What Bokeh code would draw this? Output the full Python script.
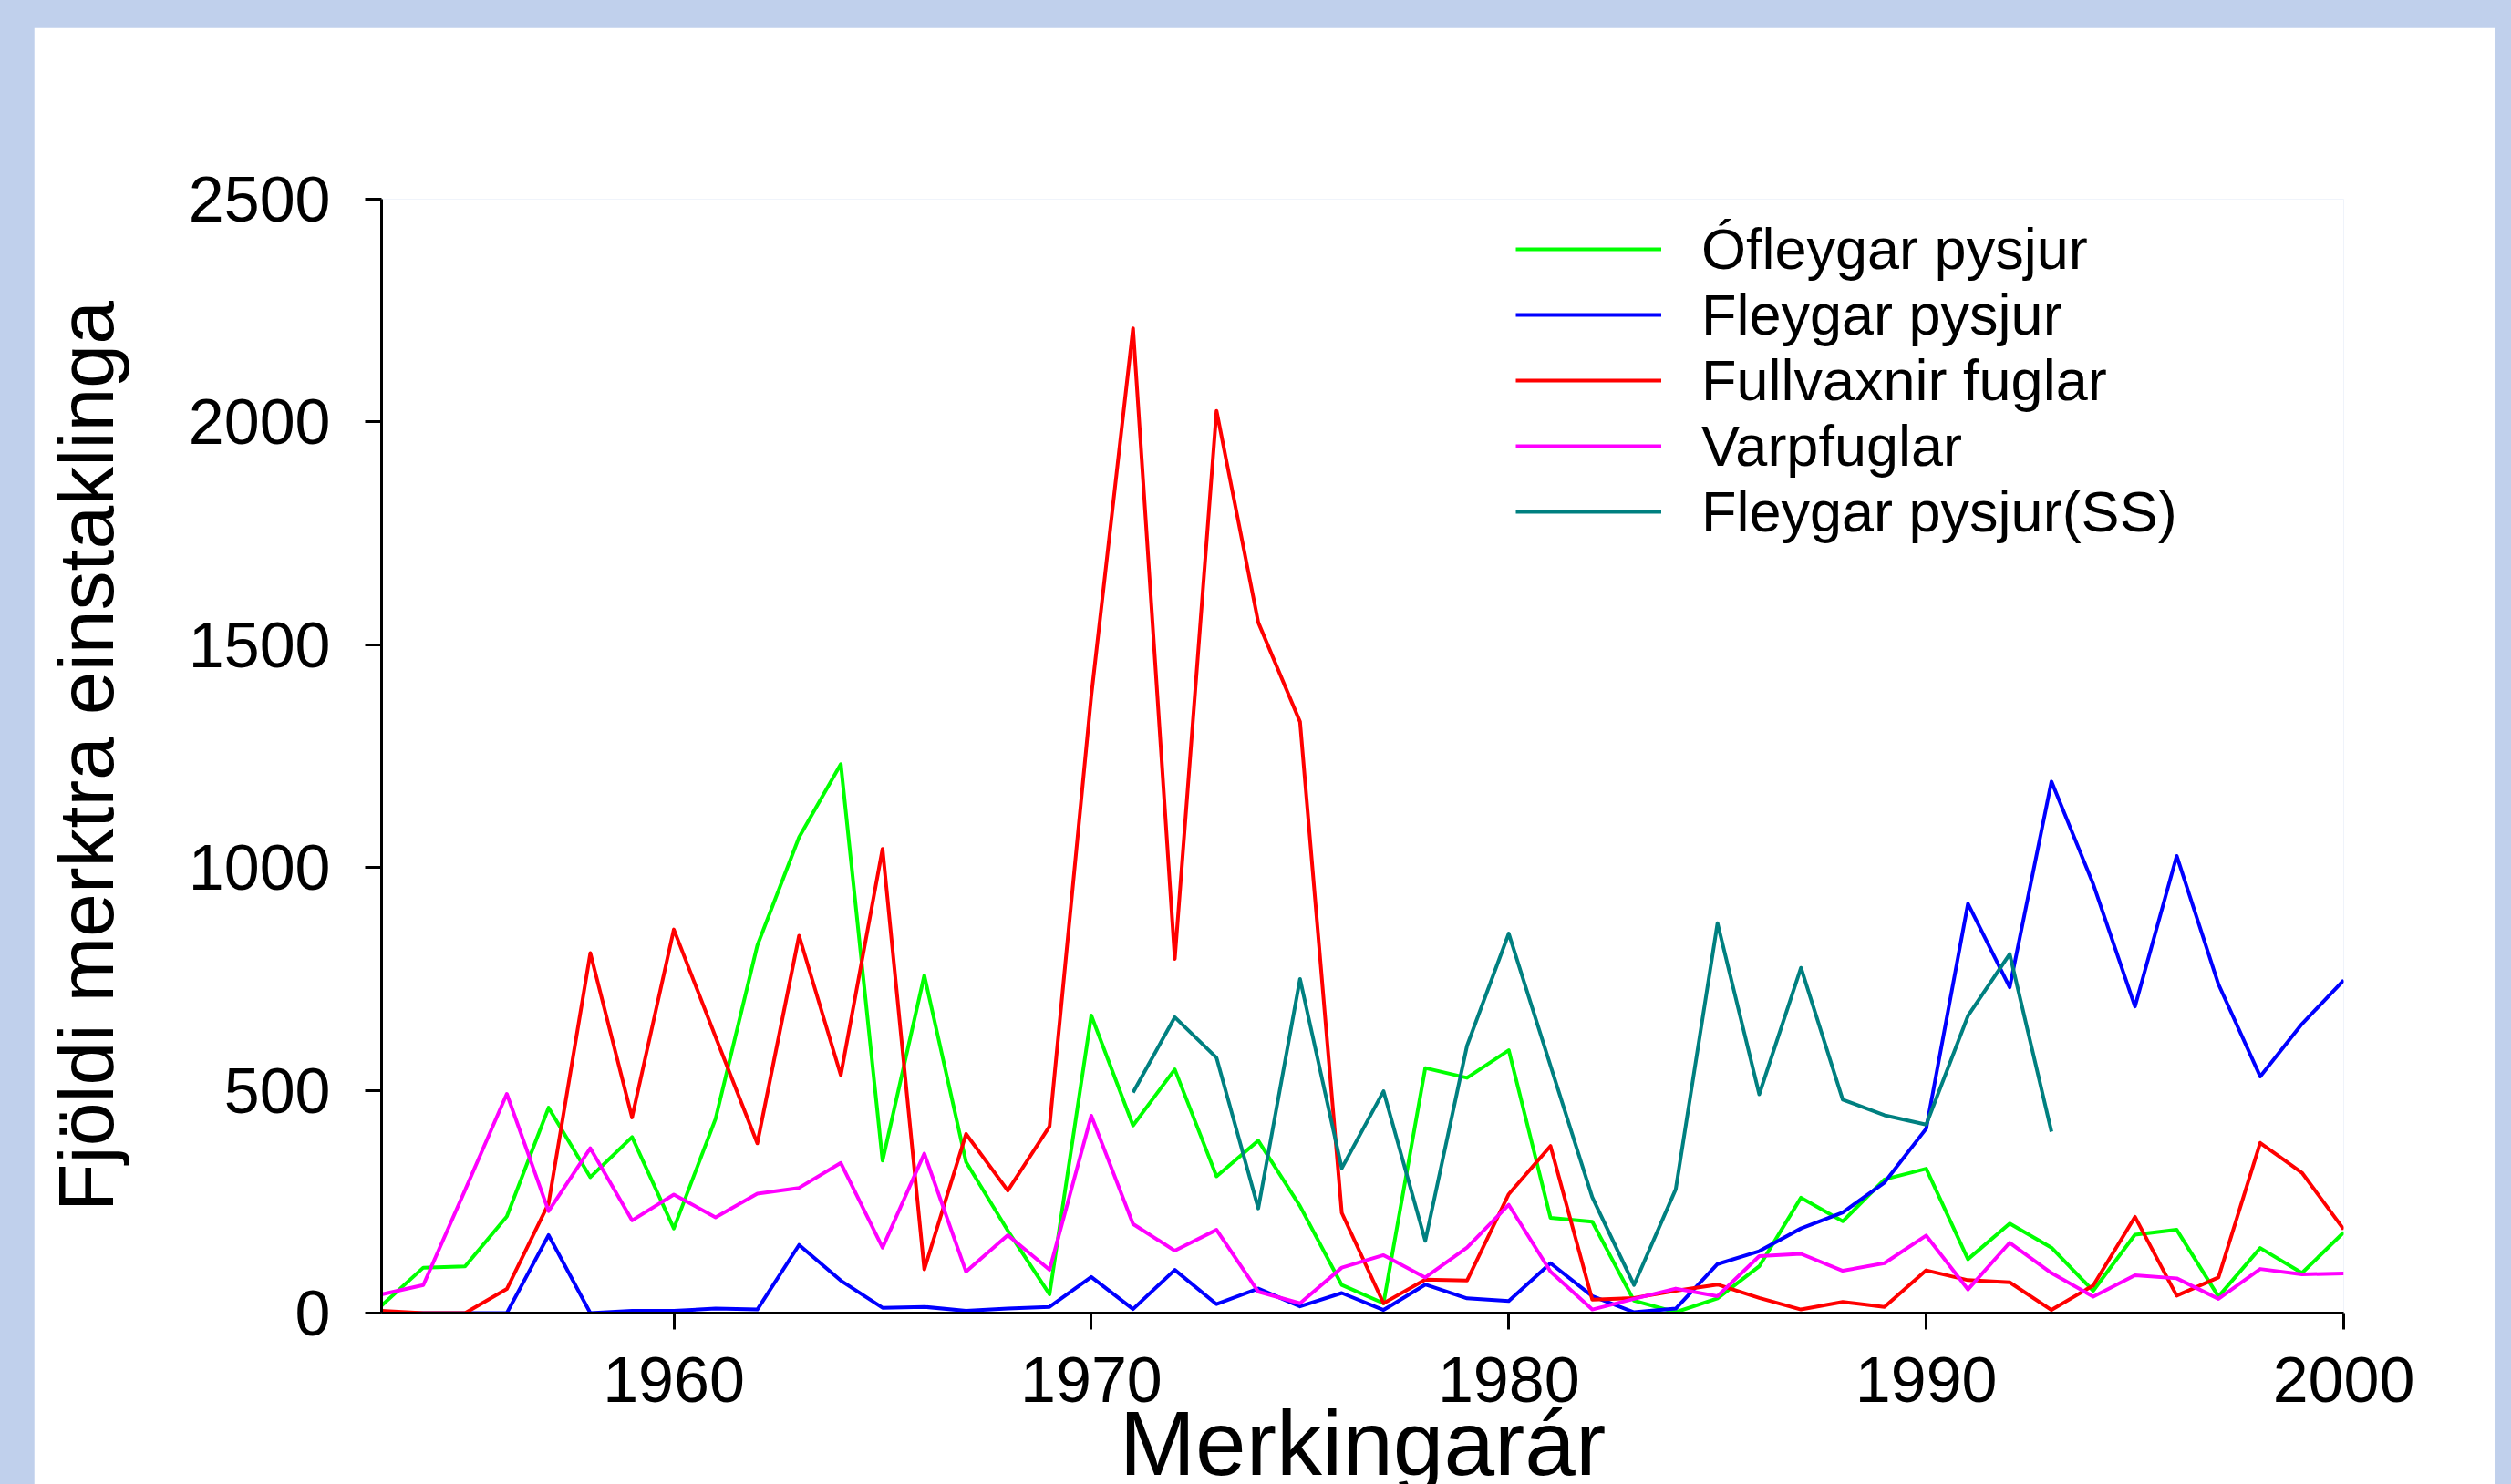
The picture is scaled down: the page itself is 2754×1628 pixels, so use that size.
from bokeh.plotting import figure
from bokeh.models import Range1d, FixedTicker, Legend, LegendItem
from bokeh.layouts import column
from bokeh.embed import file_html
from bokeh.resources import INLINE

years = list(range(1953, 2001))
years_ss = list(range(1971, 1994))

ofleygar = [17, 102, 105, 217, 461, 305, 395, 190, 436, 825, 1068, 1232, 342, 758, 339, 185,
            42, 668, 421, 547, 307, 387, 240, 63, 22, 550, 528, 590, 214, 205, 28, 2,
            33, 105, 259, 206, 300, 324, 121, 201, 147, 50, 176, 187, 37, 146, 90, 181]
fleygar = [0, 0, 0, 0, 175, 0, 5, 5, 10, 8, 153, 73, 12, 14, 5, 10,
           14, 81, 9, 97, 20, 55, 15, 45, 7, 64, 33, 27, 112, 38, 2, 10,
           110, 139, 190, 226, 293, 414, 919, 731, 1193, 963, 688, 1026, 738, 531, 649, 747]
fullvaxnir = [5, 0, 0, 54, 246, 808, 439, 861, 620, 381, 847, 534, 1042, 98, 402, 275,
              419, 1385, 2210, 795, 2025, 1550, 1327, 225, 22, 75, 73, 267, 375, 30, 34, 50,
              64, 34, 8, 25, 14, 96, 74, 69, 7, 62, 216, 39, 80, 382, 315, 188]
varpfuglar = [42, 63, 276, 492, 229, 370, 208, 266, 215, 268, 281, 337, 147, 358, 93, 175,
              97, 443, 200, 140, 187, 48, 22, 102, 130, 80, 147, 243, 93, 8, 32, 55,
              38, 128, 133, 95, 112, 174, 53, 158, 90, 37, 85, 78, 32, 99, 87, 89]
fleygar_ss = [495, 664, 573, 235, 750, 325, 498, 162, 600, 852, 555, 260, 63, 278, 875, 491,
              775, 479, 444, 423, 667, 806, 407]

labels = ["Ófleygar pysjur", "Fleygar pysjur", "Fullvaxnir fuglar", "Varpfuglar", "Fleygar pysjur(SS)"]
colors = ["#00FF00", "#0000FF", "#FF0000", "#FF00FF", "#008080"]
x_ticks = [1960, 1970, 1980, 1990, 2000]
y_ticks = [0, 500, 1000, 1500, 2000, 2500]

FONT = "Liberation Sans"

p = figure(width=2699, height=1660,
           x_range=Range1d(1953, 2000), y_range=Range1d(0, 2500),
           output_backend="svg", toolbar_location=None,
           min_border_left=381, min_border_right=166, min_border_top=188, min_border_bottom=250,
           background_fill_color="white", border_fill_color="white", outline_line_color=None)
p.margin = (30, 18, 0, 37)
p.grid.visible = False

series = [(years, ofleygar), (years, fleygar), (years, fullvaxnir), (years, varpfuglar), (years_ss, fleygar_ss)]
renderers = []
for (xs, ys), c in zip(series, colors):
    r = p.line(xs, ys, line_color=c, line_width=4, line_join="round")
    renderers.append(r)

for ax in (p.xaxis[0], p.yaxis[0]):
    ax.axis_line_width = 3
    ax.axis_line_color = "black"
    ax.major_tick_line_width = 3
    ax.major_tick_out = 18
    ax.major_tick_in = 0
    ax.minor_tick_out = 0
    ax.minor_tick_in = 0
    ax.major_label_text_font = FONT
    ax.major_label_text_font_size = "70px"
    ax.major_label_text_color = "black"
    ax.axis_label_text_font = FONT
    ax.axis_label_text_font_style = "normal"
    ax.axis_label_text_color = "black"

p.xaxis.ticker = FixedTicker(ticks=x_ticks)
p.yaxis.ticker = FixedTicker(ticks=y_ticks)
p.xaxis.axis_label = "Merkingarár"
p.xaxis.axis_label_text_font_size = "100px"
p.xaxis.major_label_standoff = 30
p.xaxis.axis_label_standoff = -14
p.yaxis.axis_label = "Fjöldi merktra einstaklinga"
p.yaxis.axis_label_text_font_size = "86px"
p.yaxis.major_label_standoff = 38
p.yaxis.axis_label_standoff = 62

legend = Legend(items=[LegendItem(label=l, renderers=[r]) for l, r in zip(labels, renderers)],
                location=(1244, 843), glyph_width=160, glyph_height=60, label_height=60,
                label_standoff=44, spacing=0, padding=0, margin=0,
                label_text_font=FONT, label_text_font_size="63px", label_text_color="black",
                border_line_color=None, background_fill_alpha=0)
p.add_layout(legend, "center")

root = column(p, width=2754,
              styles={"background-color": "#C0D0EC", "position": "fixed",
                      "top": "0px", "left": "0px", "overflow": "hidden"})

open("out.html", "w").write(file_html(root, INLINE))
